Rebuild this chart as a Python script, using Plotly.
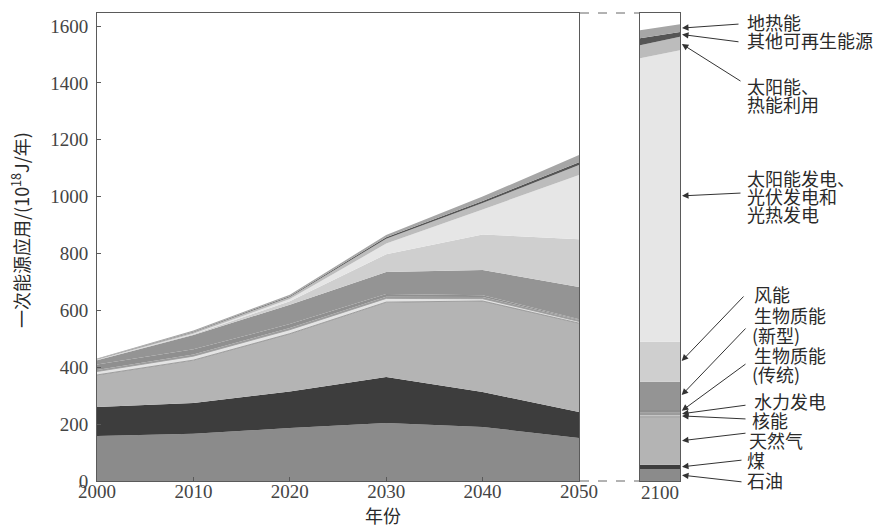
import plotly.graph_objects as go

# ---------------- data ----------------
years = [2000, 2010, 2020, 2030, 2040, 2050]
layer_names = ["石油", "煤", "天然气", "核能", "水力发电", "生物质能(传统)", "生物质能(新型)",
               "风能", "太阳能发电、光伏发电和光热发电", "太阳能、热能利用", "其他可再生能源", "地热能"]
oil = [158, 166, 186, 204, 190, 151]
coal = [102, 108, 129, 162, 123, 92]
gas = [113, 151, 203, 263, 320, 312]
nuclear = [12, 14, 14, 13, 8, 6]
hydro = [5, 6, 6, 6, 6, 5]
bio_trad = [20, 18, 14, 10, 6, 3]
bio_new = [15, 50, 68, 77, 89, 113]
wind = [1, 3, 12, 62, 125, 168]
solar_power = [0, 2, 8, 38, 88, 226]
solar_heat = [2, 5, 7, 17, 23, 35]
other_ren = [1, 2, 3, 5, 7, 10]
geothermal = [2, 4, 5, 8, 15, 25]

# 2100 panel (left and right edge of the slice), same layer order
vals_2100_start = [42, 15, 169, 6, 8, 10, 99, 141, 997, 45, 25, 28]
vals_2100_end = [42, 15, 169, 6, 8, 10, 99, 141, 1025, 47, 17, 27]

y_ticks = [0, 200, 400, 600, 800, 1000, 1200, 1400, 1600]
x_ticks = [2000, 2010, 2020, 2030, 2040, 2050]

series = [oil, coal, gas, nuclear, hydro, bio_trad, bio_new, wind,
          solar_power, solar_heat, other_ren, geothermal]
colors = ["#8b8b8b", "#3d3d3d", "#b4b4b4", "#e4e4e4", "#9c9c9c", "#8f8f8f", "#949494",
          "#cfcfcf", "#e6e6e6", "#bcbcbc", "#555555", "#a6a6a6"]
edge = {2: "#8a8a8a", 3: "#9a9a9a"}

# ---------------- geometry ----------------
W, H = 886, 528
L, R, T, B = 97, 206, 13, 47
PW, PH = W - L - R, H - T - B
YMAX = 1645.7


def px_x(px):
    return (px - L) / PW


def px_y(py):
    return (H - B - py) / PH


fig = go.Figure()

for i, (name, vals, col) in enumerate(zip(layer_names, series, colors)):
    lw = 0.8 if i in edge else 0
    fig.add_trace(go.Scatter(
        x=years, y=vals, name=name, mode="lines", stackgroup="main",
        fillcolor=col, line=dict(width=lw, color=edge.get(i, col)),
        hoverinfo="name+y", showlegend=False, xaxis="x", yaxis="y"))

for i, (name, a, b, col) in enumerate(zip(layer_names, vals_2100_start, vals_2100_end, colors)):
    lw = 0.8 if i in edge else 0
    fig.add_trace(go.Scatter(
        x=[0, 1], y=[a, b], name=name, mode="lines", stackgroup="p2100",
        fillcolor=col, line=dict(width=lw, color=edge.get(i, col)),
        hoverinfo="name+y", showlegend=False, xaxis="x2", yaxis="y2"))

axis_col = "#5a5a5a"
tick_font = dict(family="Liberation Serif, Times New Roman, serif", size=19, color="#444444")

fig.update_layout(
    width=W, height=H, autosize=False,
    margin=dict(l=L, r=R, t=T, b=B, pad=0),
    paper_bgcolor="white", plot_bgcolor="white",
    xaxis=dict(domain=[0, px_x(579)], range=[2000, 2050], tickvals=x_ticks,
               ticks="inside", ticklen=4, tickcolor=axis_col, showline=True, linecolor=axis_col,
               linewidth=1, mirror=True, showgrid=False, zeroline=False, tickfont=tick_font,
               anchor="y", ticklabelstandoff=-7),
    yaxis=dict(domain=[0, 1], range=[0, YMAX], tickvals=y_ticks, ticks="inside", ticklen=4,
               tickcolor=axis_col, showline=True, linecolor=axis_col, linewidth=1, mirror=True,
               showgrid=False, zeroline=False, tickfont=tick_font, anchor="x",
               ticklabelstandoff=4),
    xaxis2=dict(domain=[px_x(640), 1], range=[0, 1], tickvals=[0.5], ticktext=["2100"],
                ticks="", showline=True, linecolor=axis_col, linewidth=1, mirror=True,
                showgrid=False, zeroline=False, tickfont=tick_font, anchor="y2",
                ticklabelstandoff=-6),
    yaxis2=dict(domain=[0, 1], range=[0, YMAX], showticklabels=False, ticks="",
                showline=True, linecolor=axis_col, linewidth=1, mirror=True,
                showgrid=False, zeroline=False, anchor="x2"),
)

# dashed connectors between panels
for yy in (0, 1):
    fig.add_shape(type="line", xref="paper", yref="paper", x0=px_x(580), x1=px_x(640),
                  y0=yy, y1=yy, line=dict(color="#666666", width=1, dash="dash"))

cjk = "Noto Sans CJK SC"
txt_col = "#2a2a2a"

# axis titles
fig.add_annotation(xref="paper", yref="paper", x=px_x(383), y=px_y(515), text="年份",
                   xanchor="center", yanchor="middle",
                   showarrow=False, font=dict(family=cjk, size=18, color=txt_col))
fig.add_annotation(xref="paper", yref="paper", x=px_x(20), y=px_y(230),
                   xanchor="center", yanchor="middle",
                   text="一次能源应用/(10<sup>18</sup>J/年)", textangle=-90, showarrow=False,
                   font=dict(family=cjk, size=18, color=txt_col))

# arrows from labels to layers of the 2100 slice
cum = []
s = 0
for v in vals_2100_end:
    cum.append((s, s + v))
    s += v
mids = [(a + b) / 2 for a, b in cum]

tails_px = [(743, 482), (743, 460), (747, 433), (747, 419), (747, 405), (747, 363),
            (747, 327), (745, 295), (742, 193), (742, 82), (740, 42), (740, 24)]
HEAD_X = 681

for mid, (tx, ty) in zip(mids, tails_px):
    hy = (H - B) - mid * PH / YMAX
    fig.add_annotation(xref="paper", yref="y2", x=px_x(HEAD_X), y=mid,
                       axref="pixel", ayref="pixel", ax=tx - HEAD_X, ay=ty - hy,
                       text="", showarrow=True, arrowhead=2,
                       arrowsize=1.3, arrowwidth=1, arrowcolor="#333333", standoff=1)

label_lines = [("地热能", 745, 22), ("其他可再生能源", 745, 40), ("太阳能、", 745, 86),
               ("热能利用", 745, 104), ("太阳能发电、", 745, 178), ("光伏发电和", 745, 196),
               ("光热发电", 745, 214), ("风能", 752, 294), ("生物质能", 752, 315),
               ("(新型)", 750, 335), ("生物质能", 752, 355), ("(传统)", 750, 374),
               ("水力发电", 752, 401), ("核能", 750, 420), ("天然气", 747, 440),
               ("煤", 745, 460), ("石油", 745, 480)]
for t, lx, ly in label_lines:
    fig.add_annotation(xref="paper", yref="paper", x=px_x(lx), y=px_y(ly), text=t,
                       xanchor="left", yanchor="middle", showarrow=False,
                       font=dict(family=cjk, size=18, color=txt_col))

fig.write_html("out.html", config={"displayModeBar": False},
               post_script="document.body.style.margin='0';document.body.style.overflow='hidden';")
